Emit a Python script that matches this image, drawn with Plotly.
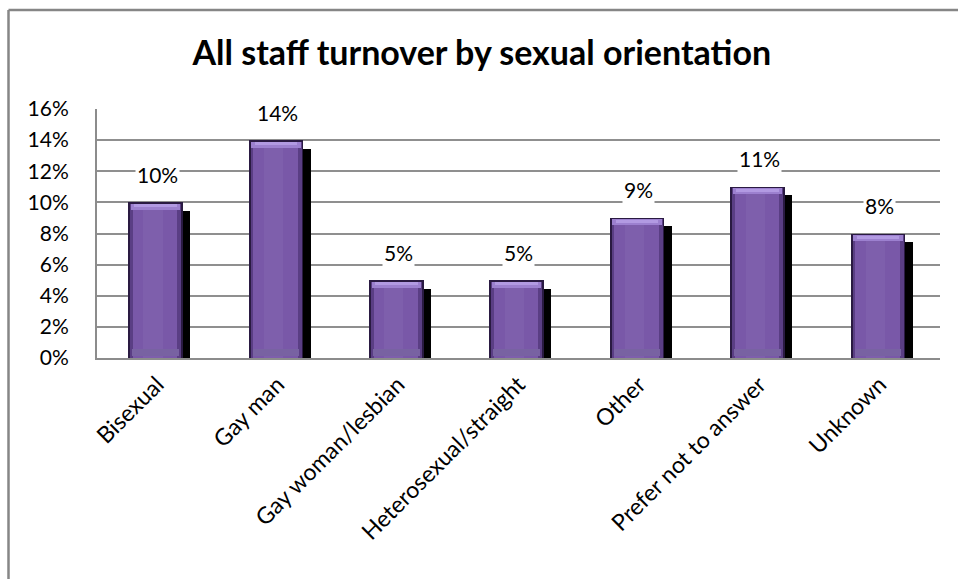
import plotly.graph_objects as go

# Turnover rate by sexual orientation
categories = ["Bisexual", "Gay man", "Gay woman/lesbian", "Heterosexual/straight",
              "Other", "Prefer not to answer", "Unknown"]
turnover = [0.10, 0.14, 0.05, 0.05, 0.09, 0.11, 0.08]
y_ticks = [0, 0.02, 0.04, 0.06, 0.08, 0.10, 0.12, 0.14, 0.16]

FONT = "Lato"
W_PX, H_PX = 958, 579
M_L, M_R, M_T, M_B = 97, 18, 109, 221
plot_w = W_PX - M_L - M_R
plot_h = H_PX - M_T - M_B
YMAX = 0.16

# pixel -> data unit conversions (categorical x spacing = 1)
hx = len(categories) / plot_w
vy = YMAX / plot_h

bar_w = 54.5 * hx
shift = -1.8 * hx
left = -bar_w / 2 + shift

fig = go.Figure()

# drop shadow
fig.add_trace(go.Bar(
    x=categories, y=[v - 8.5 * vy for v in turnover],
    width=bar_w, offset=left + 7.5 * hx,
    marker=dict(color="#000000", line=dict(width=0)),
    hoverinfo="skip", showlegend=False))

# dark rim of the column
fig.add_trace(go.Bar(
    x=categories, y=turnover,
    width=bar_w, offset=left,
    marker=dict(color="#2a1a42", line=dict(width=0)),
    hoverinfo="skip", showlegend=False))

# inner edges (darker purple)
fig.add_trace(go.Bar(
    x=categories, y=[v - 1.5 * vy for v in turnover],
    width=bar_w - 3.5 * hx, offset=left + 2 * hx,
    marker=dict(color="#5a3e84", line=dict(width=0)),
    hoverinfo="skip", showlegend=False))

# main body
fig.add_trace(go.Bar(
    x=categories, y=[v - 1.5 * vy for v in turnover],
    width=bar_w - 10 * hx, offset=left + 4.5 * hx,
    marker=dict(color="#7958a8", line=dict(width=0)),
    hoverinfo="skip", showlegend=False))

# soft centre sheen
fig.add_trace(go.Bar(
    x=categories, y=[v - 1.5 * vy for v in turnover],
    width=bar_w * 0.35, offset=left + bar_w * 0.28,
    marker=dict(color="#7e5fac", line=dict(width=0)),
    hoverinfo="skip", showlegend=False))

# slightly greyer band near the base
fig.add_trace(go.Bar(
    x=categories, y=[7 * vy] * len(categories), base=[2 * vy] * len(categories),
    width=bar_w - 8 * hx, offset=left + 4 * hx,
    marker=dict(color="#7862a2", line=dict(width=0)),
    hoverinfo="skip", showlegend=False))

# bevelled top cap
fig.add_trace(go.Bar(
    x=categories, y=[6 * vy] * len(categories),
    base=[v - 7.5 * vy for v in turnover],
    width=bar_w - 5 * hx, offset=left + 2.5 * hx,
    marker=dict(color="#9c80cf", line=dict(width=0)),
    hoverinfo="skip", showlegend=False))
fig.add_trace(go.Bar(
    x=categories, y=[3 * vy] * len(categories),
    base=[v - 5 * vy for v in turnover],
    width=bar_w - 12 * hx, offset=left + 6 * hx,
    marker=dict(color="#b29ae2", line=dict(width=0)),
    hoverinfo="skip", showlegend=False))

# value labels
for c, v in zip(categories, turnover):
    fig.add_annotation(
        x=c, y=v, text=f"{v * 100:.0f}%", showarrow=False,
        yanchor="middle", yshift=28, bgcolor="#ffffff",
        font=dict(family=FONT, size=21, color="#000000"))

# chart frame (top and left edges)
fx = (8.5 - M_L) / plot_w
fy = 1 + (M_T - 10) / plot_h
fig.add_shape(type="line", xref="paper", yref="paper",
              x0=fx, x1=fx, y0=-2, y1=fy, line=dict(color="#868686", width=2.5))
fig.add_shape(type="line", xref="paper", yref="paper",
              x0=fx, x1=1.2, y0=fy, y1=fy, line=dict(color="#868686", width=2.5))

fig.update_layout(
    width=W_PX, height=H_PX,
    margin=dict(l=M_L, r=M_R, t=M_T, b=M_B),
    paper_bgcolor="#ffffff", plot_bgcolor="#ffffff",
    barmode="overlay", bargap=0,
    showlegend=False,
    title=dict(text="<b>All staff turnover by sexual orientation</b>",
               x=0.503, xref="container", xanchor="center",
               y=1 - 53 / H_PX, yref="container", yanchor="middle",
               font=dict(family=FONT, size=34, color="#000000")),
    font=dict(family=FONT, size=21, color="#000000"),
)

fig.update_xaxes(
    type="category", tickangle=-45, showgrid=False,
    showline=True, linecolor="#8c8c8c", linewidth=2,
    ticks="", ticklabelstandoff=2,
    tickfont=dict(family=FONT, size=23, color="#000000"),
    range=[-0.5, len(categories) - 0.5],
)
fig.update_yaxes(
    range=[0, YMAX], tickvals=y_ticks, tickformat=".0%",
    showgrid=True, gridcolor="#8f8f8f", gridwidth=1.6,
    showline=True, linecolor="#8c8c8c", linewidth=2,
    ticks="", ticklabelstandoff=22, zeroline=False,
    tickfont=dict(family=FONT, size=21, color="#000000"),
)

fig.write_html("out.html")
